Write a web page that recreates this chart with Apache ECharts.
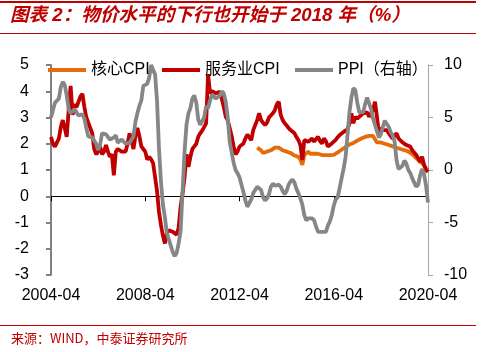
<!DOCTYPE html>
<html>
<head>
<meta charset="utf-8">
<script src="https://cdn.jsdelivr.net/npm/echarts@6/dist/echarts.min.js"></script>
<style>
  html, body { margin: 0; padding: 0; background: #fff; }
  #chart { width: 481px; height: 352px; }
</style>
</head>
<body>
<div id="chart"></div>
<script>
// monthly, 2004-04 .. 2020-04
var startYear = 2004, startMonth = 4, monthCount = 193;

// 服务业CPI, %
var serviceCpi = [
    2.26, 2.0, 1.89, 1.95, 2.2, 2.64, 2.9, 2.6, 2.26,
    3.3, 4.2, 3.1, 3.5, 3.4, 3.6, 3.8, 3.9, 3.4, 3.0, 2.8, 2.6,
    2.4, 1.8, 1.6, 1.7, 1.89, 1.6, 1.7, 1.95, 1.7, 1.5, 1.6, 0.8,
    1.7, 1.8, 1.76, 1.7, 1.75, 1.7, 2.0, 2.4, 2.1, 1.8, 2.3, 2.6,
    2.3, 1.9, 1.8, 1.7, 1.4, 1.5, 1.4, 1.26, 1.3, 0.2, -0.6, -1.1,
    -1.5, -1.8, -1.4, -1.3, -1.3, -1.35, -1.4, -1.47, -1.2, -0.4, 0.1, 0.7,
    1.6, 1.12, 1.5, 1.8, 1.9, 2.0, 2.27, 2.4, 2.5, 2.55, 2.78, 4.65,
    3.92, 4.0, 4.05, 3.92, 3.9, 3.98, 3.7, 3.4, 3.03, 2.9, 2.6, 2.3,
    1.9, 1.6, 1.7, 1.89, 1.95, 2.01, 2.2, 2.35, 2.4, 2.14, 2.52, 2.71,
    2.9, 3.16, 2.9, 2.8, 2.71, 2.8, 3.0, 3.05, 3.16, 3.28, 3.5, 3.6,
    3.1, 2.9, 2.78, 2.7, 2.6, 2.52, 2.45, 2.4, 2.25, 2.14, 1.95, 1.38,
    2.14, 2.1, 2.08, 2.15, 2.2, 2.08, 2.15, 2.27, 2.1, 2.01, 2.2, 2.1,
    1.89, 1.95, 2.01, 2.08, 2.15, 2.25, 2.33, 2.4, 2.45, 2.52, 2.55, 2.78,
    3.16, 2.78, 3.03, 2.95, 3.03, 3.1, 3.16, 3.2, 3.2, 3.03, 3.15, 3.28,
    3.6, 3.03, 2.4, 2.6, 2.52, 2.5, 2.52, 2.4, 2.33, 2.2, 2.3, 2.4,
    2.2, 2.14, 2.05, 2.01, 1.95, 1.92, 1.89, 1.75, 1.7, 1.57, 1.45, 1.31,
    1.51, 1.19, 1.0, 0.93
];

// PPI, % (right axis)
var ppi = [
    5.0, 5.7, 6.4, 6.4, 6.8, 7.9, 8.4, 8.1, 7.1,
    5.8, 5.4, 5.6, 5.8, 5.9, 5.2, 5.2, 5.3, 4.9, 4.0, 3.2, 3.2,
    3.1, 3.0, 2.5, 1.9, 2.4, 3.5, 3.6, 3.4, 3.5, 2.9, 2.8, 3.1,
    3.3, 2.6, 2.7, 2.9, 2.8, 2.5, 2.4, 2.6, 2.7, 3.2, 4.6, 5.4,
    6.1, 6.6, 8.0, 8.1, 8.2, 8.8, 10.0, 10.1, 9.1, 6.6, 2.0, -1.1,
    -3.3, -4.5, -6.0, -6.6, -7.2, -7.8, -8.2, -7.9, -7.0, -5.8, -2.1, 1.7,
    4.3, 5.4, 5.9, 6.8, 7.1, 6.4, 4.8, 4.3, 4.3, 5.0, 6.1, 5.9,
    6.6, 7.2, 7.3, 6.8, 6.8, 7.1, 7.5, 7.3, 6.5, 5.0, 2.7, 1.7,
    0.7, 0.0, -0.3, -0.7, -1.4, -2.1, -2.9, -3.5, -3.6, -2.8, -2.2, -1.9,
    -1.6, -1.6, -1.9, -2.6, -2.9, -2.7, -2.3, -1.6, -1.3, -1.5, -1.4, -1.4,
    -1.6, -2.0, -2.3, -2.0, -1.4, -1.1, -0.9, -1.2, -1.8, -2.2, -2.7, -3.3,
    -4.3, -4.8, -4.6, -4.6, -4.6, -4.8, -5.4, -5.9, -5.9, -5.9, -5.9, -5.9,
    -5.3, -4.9, -4.3, -3.4, -2.8, -2.6, -1.7, -0.8, 0.1, 1.2, 3.3, 5.5,
    6.9, 7.8, 7.6, 6.4, 5.5, 5.5, 5.5, 6.3, 6.9, 6.9, 5.8, 4.9,
    4.3, 3.7, 3.1, 3.4, 4.1, 4.7, 4.6, 4.1, 3.6, 3.3, 2.7, 0.9,
    0.1, 0.1, 0.4, 0.9, 0.6, 0.0, -0.3, -0.8, -1.2, -1.6, -1.4, -0.5,
    0.1, -0.4, -1.5, -3.1
];

// 核心CPI, %, starts 2013-01
var coreStart = '2013-01';
var coreCpi = [
    1.85, 1.9, 1.75, 1.65, 1.65, 1.7, 1.75, 1.75, 1.8, 1.85, 1.9, 1.85,
    1.8, 1.75, 1.75, 1.7, 1.65, 1.65, 1.6, 1.55, 1.55, 1.5, 1.4, 1.2,
    1.57, 1.63, 1.7, 1.62, 1.65, 1.62, 1.67, 1.62, 1.55, 1.57, 1.57, 1.57,
    1.52, 1.57, 1.55, 1.58, 1.62, 1.67, 1.72, 1.77, 1.82, 1.87, 1.92, 1.97,
    2.0, 2.03, 2.07, 2.12, 2.16, 2.2, 2.22, 2.26, 2.28, 2.3, 2.33, 2.3,
    2.32, 2.05, 2.1, 2.05, 2.02, 2.0, 1.97, 1.95, 1.92, 1.9, 1.87, 1.85,
    1.83, 1.8, 1.8, 1.76, 1.75, 1.7, 1.65, 1.6, 1.55, 1.45, 1.4, 1.31,
    1.25, 1.19, 1.06, 1.0
];

var seriesNames = ['核心CPI', '服务业CPI', 'PPI（右轴）'];
var seriesColors = ['#E46C0A', '#C00000', '#868686'];
var legendLeft = [43, 157, 290];
var leftTicks = { min: -3, max: 5, interval: 1 };
var rightTicks = { min: -10, max: 10, interval: 5 };

var months = [];
for (var i = 0; i < monthCount; i++) {
    var m = startMonth - 1 + i;
    var y = startYear + Math.floor(m / 12);
    var mm = (m % 12) + 1;
    months.push(y + '-' + (mm < 10 ? '0' + mm : mm));
}

var coreData = [];
var coreIdx = months.indexOf(coreStart);
for (var k = 0; k < months.length; k++) {
    coreData.push(k >= coreIdx ? coreCpi[k - coreIdx] : null);
}

var RED = '#C00000';
var FONT = '"Liberation Sans", Arial, "Noto Sans CJK SC", sans-serif';

function everyFour(idx) {
    return idx % 48 === 0;
}

var legends = seriesNames.map(function (name, i) {
    return {
        left: legendLeft[i],
        top: 57,
        itemWidth: 38,
        itemHeight: 4,
        icon: 'rect',
        textStyle: { fontSize: 16, color: '#000', fontFamily: FONT },
        data: [name]
    };
});

function lineSeries(name, data, color, axis) {
    return {
        name: name,
        type: 'line',
        yAxisIndex: axis,
        data: data,
        showSymbol: false,
        symbol: 'none',
        connectNulls: false,
        lineStyle: { color: color, width: 3.8 },
        itemStyle: { color: color }
    };
}

var dom = document.getElementById('chart');
var myChart = echarts.init(dom, null, { renderer: 'canvas' });

var option = {
    animation: false,
    backgroundColor: '#fff',
    textStyle: { fontFamily: FONT },
    grid: { left: 51, right: 53, top: 65, bottom: 77 },
    legend: legends,
    xAxis: [
        {
            type: 'category',
            data: months,
            boundaryGap: false,
            position: 'bottom',
            axisLine: { show: false, onZero: false },
            axisTick: { show: false },
            splitLine: { show: false },
            axisLabel: {
                interval: everyFour,
                margin: 13,
                fontSize: 16,
                color: '#000',
                fontFamily: FONT
            }
        },
        {
            type: 'category',
            data: months,
            boundaryGap: false,
            position: 'bottom',
            axisLine: { show: true, onZero: true, onZeroAxisIndex: 0, lineStyle: { color: '#000', width: 1 } },
            axisTick: { show: true, interval: everyFour, length: 5, lineStyle: { color: '#000' } },
            axisLabel: { show: false },
            splitLine: { show: false }
        }
    ],
    yAxis: [
        {
            type: 'value',
            min: leftTicks.min,
            max: leftTicks.max,
            interval: leftTicks.interval,
            axisLine: { show: true, lineStyle: { color: '#808080', width: 2 } },
            axisTick: { show: true, length: 5, lineStyle: { color: '#808080', width: 2 } },
            splitLine: { show: false },
            axisLabel: { margin: 22, fontSize: 16, color: '#000', fontFamily: FONT }
        },
        {
            type: 'value',
            min: rightTicks.min,
            max: rightTicks.max,
            interval: rightTicks.interval,
            position: 'right',
            axisLine: { show: true, lineStyle: { color: '#A6A6A6', width: 1 } },
            axisTick: { show: true, length: 5, lineStyle: { color: '#A6A6A6' } },
            splitLine: { show: false },
            axisLabel: { margin: 16, fontSize: 16, color: '#000', fontFamily: FONT }
        }
    ],
    series: [
        lineSeries(seriesNames[0], coreData, seriesColors[0], 0),
        lineSeries(seriesNames[1], serviceCpi, seriesColors[1], 0),
        lineSeries(seriesNames[2], ppi, seriesColors[2], 1)
    ],
    graphic: [
        { type: 'rect', shape: { x: 0, y: 1, width: 476, height: 2 }, style: { fill: RED }, silent: true },
        { type: 'rect', shape: { x: 0, y: 33, width: 476, height: 1 }, style: { fill: RED }, silent: true },
        { type: 'rect', shape: { x: 0, y: 325, width: 476, height: 1 }, style: { fill: RED }, silent: true },
        {
            type: 'text', left: 10, top: 7,
            style: {
                text: '图表 2：物价水平的下行也开始于 2018 年（%）',
                fill: RED,
                font: 'italic bold 18.6px ' + FONT
            }
        },
        {
            type: 'text', left: 11, top: 332,
            style: {
                text: '来源：WIND，中泰证券研究所',
                fill: RED,
                font: '13px "Noto Sans CJK SC", sans-serif'
            }
        }
    ]
};

if (option && typeof option === 'object') {
    myChart.setOption(option, true);
}
</script>
</body>
</html>
